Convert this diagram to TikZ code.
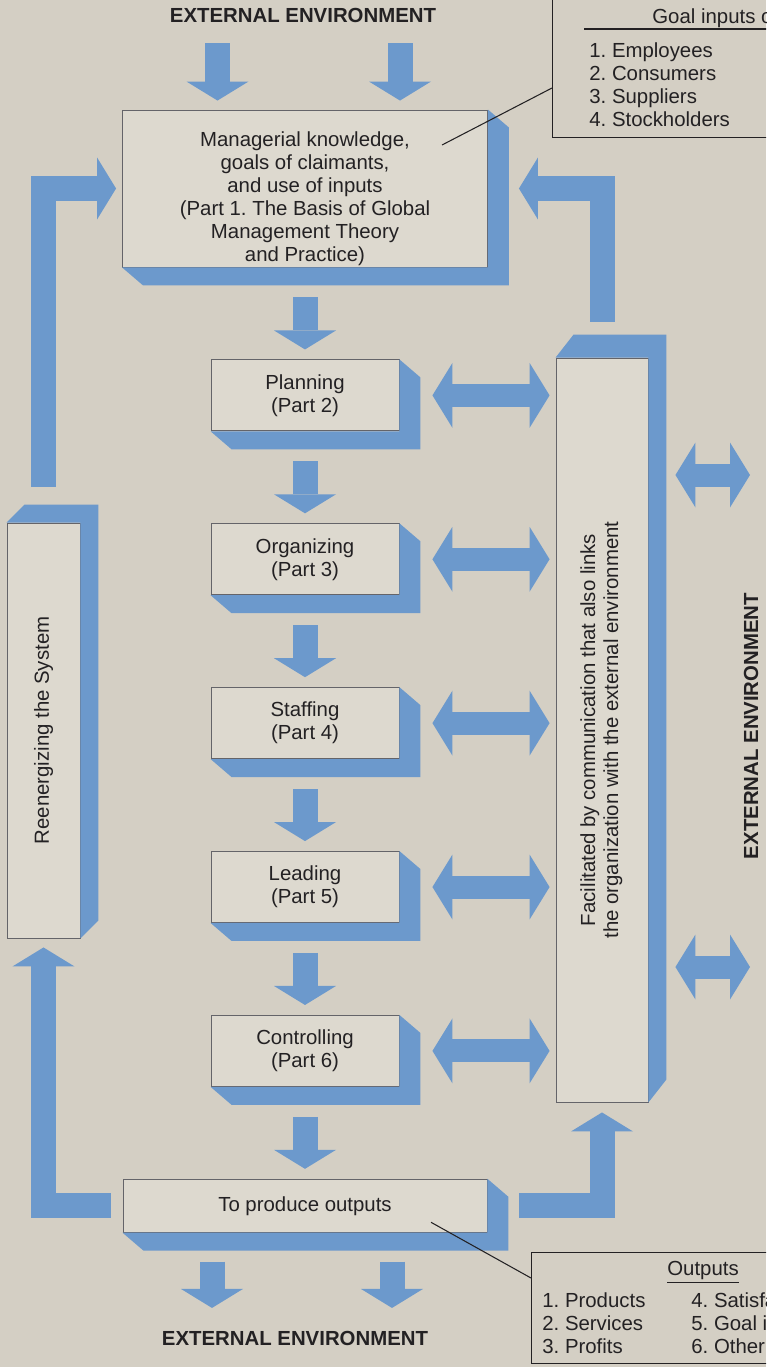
\documentclass[tikz,border=0pt]{standalone}
\usepackage{fontspec}
\setmainfont{Liberation Sans}
\usetikzlibrary{positioning, arrows.meta, calc}
\definecolor{PaperBg}{RGB}{212,207,196}
\definecolor{FaceFill}{RGB}{221,217,207}
\definecolor{BlockBlue}{RGB}{108,153,204}
\definecolor{InkGray}{RGB}{35,33,35}
\definecolor{EdgeGray}{RGB}{100,100,105}
\frenchspacing

\begin{document}
\begin{tikzpicture}[
    font=\fontsize{11.6}{13.1}\selectfont,
    text=InkGray,
    facebox/.style={
        draw=EdgeGray,
        line width=0.5pt,
        fill=FaceFill,
        align=center,
        inner sep=0pt,
        minimum width=3.76cm,
        minimum height=1.42cm
    },
    infobox/.style={
        draw=InkGray,
        line width=0.6pt,
        inner sep=0pt
    },
    envtext/.style={
        inner sep=0pt,
        font=\fontsize{11.6}{13.1}\selectfont\bfseries
    },
    flow/.style={
        line width=0.5cm,
        BlockBlue,
        -{Triangle[length=0.38cm, width=1.24cm, line width=0pt]}
    },
    link/.style={
        line width=0.46cm,
        BlockBlue,
        {Triangle[length=0.4cm, width=1.3cm, line width=0pt]}-{Triangle[length=0.4cm, width=1.3cm, line width=0pt]}
    },
    leader/.style={
        draw=InkGray,
        line width=0.6pt
    }
]

\useasboundingbox (0,0) rectangle (15.32,-27.34);
\clip (0,0) rectangle (15.32,-27.34);
\fill[PaperBg] (0,0) rectangle (15.32,-27.34);

% Environment labels
\node[envtext] (envtop) at (6.06,-0.30) {EXTERNAL ENVIRONMENT};
\node[envtext] (envbot) at (5.90,-26.76) {EXTERNAL ENVIRONMENT};
\node[envtext] (envright) at (15.02,-14.52) {\rotatebox{90}{EXTERNAL ENVIRONMENT}};

% Main column of functions
\node[facebox, minimum width=7.3cm, minimum height=3.14cm] (mgmt) at (6.1,-3.77) {\rule{0pt}{0.7cm}Managerial knowledge,\\goals of claimants,\\and use of inputs\\(Part 1. The Basis of Global\\Management Theory\\and Practice)};
\node[facebox, below=1.84cm of mgmt]  (plan)  {Planning\\(Part 2)};
\node[facebox, below=1.84cm of plan]  (org)   {Organizing\\(Part 3)};
\node[facebox, below=1.84cm of org]   (staff) {Staffing\\(Part 4)};
\node[facebox, below=1.84cm of staff] (lead)  {Leading\\(Part 5)};
\node[facebox, below=1.84cm of lead]  (ctrl)  {Controlling\\(Part 6)};
\node[facebox, below=1.84cm of ctrl, minimum width=7.28cm, minimum height=1.06cm] (produce) {To produce outputs};

% Tall side boxes
\node[facebox, minimum width=1.46cm, minimum height=8.3cm] (reen) at (0.87,-14.61) {\rotatebox{90}{Reenergizing the System}};
\node[facebox, minimum width=1.84cm, minimum height=14.88cm] (facil) at (12.04,-14.6) {\rotatebox{90}{\begin{tabular}{@{}c@{}}Facilitated by communication that also links\\the organization with the external environment\end{tabular}}};

% Blue depth of the boxes
\foreach \n in {mgmt,plan,org,staff,lead,ctrl,produce}
    \fill[BlockBlue] (\n.south west) -- ++(0.42,-0.36) -| ([shift={(0.42,-0.36)}]\n.north east) -- (\n.north east) |- (\n.south west) -- cycle;
\foreach \n/\dx/\dy in {reen/0.36/0.36, facil/0.36/0.46}
    \fill[BlockBlue] (\n.north west) -- ++(\dx,\dy) -| ([shift={(\dx,\dy)}]\n.south east) -- (\n.south east) |- (\n.north west) -- cycle;

% Goal inputs and outputs lists
\node[infobox, anchor=south west, minimum width=5cm, minimum height=3.2cm] (goals) at (11.04,-2.76) {};
\node[anchor=west, inner sep=0pt] (goalshead) at (13.04,-0.36) {Goal inputs o};
\draw[leader] (11.68,-0.58) -- (15.4,-0.58);
\node[anchor=north west, align=left, inner sep=0pt] (goalslist) at (11.78,-0.84) {1. Employees\\2. Consumers\\3. Suppliers\\4. Stockholders};

\node[infobox, anchor=north west, minimum width=5cm, minimum height=2.22cm] (outs) at (10.62,-25.04) {};
\node[inner sep=0pt] (outshead) at (14.06,-25.44) {\underline{Outputs}};
\node[anchor=north west, align=left, inner sep=0pt] (outsleft) at (10.84,-25.84) {1. Products\\2. Services\\3. Profits};
\node[anchor=north west, align=left, inner sep=0pt] (outsright) at (13.82,-25.84) {4. Satisfa\\5. Goal i\\6. Other};

\draw[leader] ([yshift=1cm]goals.south west) -- ($(mgmt.center)+(2.74,0.87)$);
\draw[leader] ([yshift=-0.52cm]outs.north west) -- ($(produce.center)+(2.52,-0.33)$);

% Inputs from and outputs to the environment
\foreach \dx in {-1.75,1.9}
    \draw[flow] ($(envtop.south -| mgmt.north)+(\dx,-0.41)$) -- ($(mgmt.north)+(\dx,0.18)$);
\foreach \dx in {-1.86,1.74}
    \draw[flow] ($(produce.south)+(\dx,-0.58)$) -- ($(envbot.north -| produce.south)+(\dx,0.45)$);

% Down the column
\foreach \a/\b in {mgmt/plan, plan/org, org/staff, staff/lead, lead/ctrl, ctrl/produce}
    \draw[flow] ([yshift=-0.6cm]\a.south) -- ([yshift=0.2cm]\b.north);

% Functions to communication, communication to environment
\foreach \n in {plan,org,staff,lead,ctrl}
    \draw[link] ([xshift=0.66cm]\n.east) -- ($(facil.west |- \n.east)+(-0.12,0)$);
\foreach \dy in {5.1,-4.74}
    \draw[link] ($(facil.east)+(0.54,\dy)$) -- ($(envright.center |- facil.east)+(-0.02,\dy)$);

% Feedback loops
\draw[flow] ([yshift=0.72cm]facil.north) |- ([xshift=0.62cm]mgmt.east);
\draw[flow] ([yshift=0.72cm]reen.north) |- ([xshift=-0.12cm]mgmt.west);
\draw[flow] ([xshift=-0.24cm]produce.west) -| ([yshift=-0.18cm]reen.south);
\draw[flow] ([xshift=0.64cm]produce.east) -| ([yshift=-0.2cm]facil.south);

\end{tikzpicture}
\end{document}
